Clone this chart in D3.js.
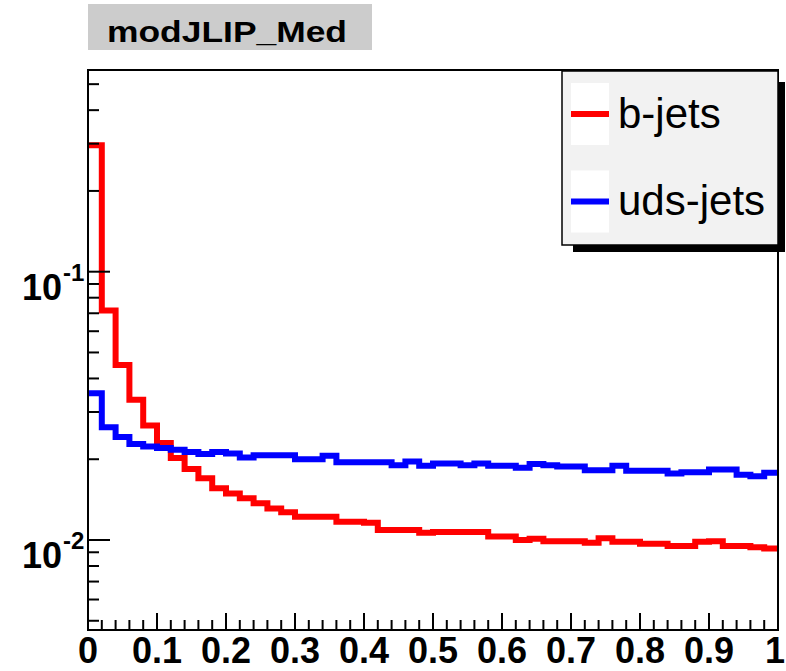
<!DOCTYPE html>
<html>
<head>
<meta charset="utf-8">
<script src="https://cdn.jsdelivr.net/npm/d3@7"></script>
<style>
  html, body { margin: 0; padding: 0; background: #ffffff; }
  svg { display: block; }
  text { font-family: "Liberation Sans", Arial, Helvetica, sans-serif; }
</style>
</head>
<body>
<script>
// ---------------- data ----------------
const title = "modJLIP_Med";
const nBins = 50;
const xMin = 0, xMax = 1;
const seriesNames = ["b-jets", "uds-jets"];
const seriesColors = ["#ff0000", "#0000ff"];

const bJets = [
  0.296, 0.0716, 0.0449, 0.0333, 0.0267, 0.0230, 0.0202, 0.0184, 0.0170, 0.0156,
  0.0149, 0.0143, 0.0137, 0.0131, 0.0127, 0.0122, 0.0122, 0.0122, 0.0117, 0.0117,
  0.0116, 0.0109, 0.0109, 0.0109, 0.01065, 0.0107, 0.0107, 0.0107, 0.0107, 0.0103,
  0.0103, 0.0100, 0.0101, 0.0099, 0.0099, 0.0099, 0.00977, 0.01015, 0.00986, 0.00986,
  0.00969, 0.00969, 0.0095, 0.0095, 0.00986, 0.0099, 0.0095, 0.0095, 0.0094, 0.0093
];
const udsJets = [
  0.0352, 0.0263, 0.0242, 0.0228, 0.0223, 0.0220, 0.0217, 0.0213, 0.0209, 0.0213,
  0.0210, 0.0203, 0.0207, 0.0207, 0.0207, 0.0200, 0.0200, 0.0206, 0.0195, 0.0195,
  0.0195, 0.0195, 0.0190, 0.0196, 0.0189, 0.0193, 0.0193, 0.0190, 0.0193, 0.0189,
  0.0189, 0.0186, 0.0192, 0.0190, 0.0188, 0.0188, 0.0182, 0.0182, 0.0189, 0.0181,
  0.0181, 0.0181, 0.0177, 0.0179, 0.0179, 0.0183, 0.0183, 0.0175, 0.0173, 0.0178
];

const xTickValues = [0, 0.1, 0.2, 0.3, 0.4, 0.5, 0.6, 0.7, 0.8, 0.9, 1];
const xTickLabels = ["0", "0.1", "0.2", "0.3", "0.4", "0.5", "0.6", "0.7", "0.8", "0.9", "1"];
const yMajorTicks = [0.01, 0.1];
const yMajorExp = ["-2", "-1"];
const yMinorTicks = [0.005, 0.006, 0.007, 0.008, 0.009,
                     0.02, 0.03, 0.04, 0.05, 0.06, 0.07, 0.08, 0.09,
                     0.2, 0.3, 0.4, 0.5];
const yDomain = [0.004619, 0.5646];

// ---------------- layout ----------------
const W = 786, H = 671;
const frame = { left: 88, right: 778, top: 70, bottom: 630 };

const svg = d3.select("body").append("svg").attr("width", W).attr("height", H);

const x = d3.scaleLinear().domain([xMin, xMax]).range([frame.left, frame.right]);
const y = d3.scaleLog().domain(yDomain).range([frame.bottom, frame.top]);

const binWidth = (xMax - xMin) / nBins;

// ---------------- title box ----------------
svg.append("rect").attr("x", 88).attr("y", 4).attr("width", 284).attr("height", 46)
  .attr("fill", "#cccccc");
svg.append("text").attr("x", 107).attr("y", 42)
  .attr("font-size", 29).attr("font-weight", "bold").attr("fill", "#000")
  .attr("textLength", 240).attr("lengthAdjust", "spacingAndGlyphs")
  .text(title);

// ---------------- histograms ----------------
function stepPath(vals) {
  const pts = [];
  vals.forEach((v, i) => {
    const lo = xMin + i * binWidth, hi = lo + binWidth;
    pts.push([x(lo), y(v)]);
    pts.push([x(hi), y(v)]);
  });
  return d3.line()(pts);
}
svg.append("clipPath").attr("id", "frameclip")
  .append("rect").attr("x", frame.left).attr("y", frame.top)
  .attr("width", frame.right - frame.left).attr("height", frame.bottom - frame.top);

[bJets, udsJets].forEach((vals, k) => {
  svg.append("path")
    .attr("d", stepPath(vals))
    .attr("fill", "none")
    .attr("stroke", seriesColors[k])
    .attr("stroke-width", 6)
    .attr("stroke-linejoin", "miter")
    .attr("clip-path", "url(#frameclip)");
});

// ---------------- frame ----------------
svg.append("rect").attr("x", frame.left).attr("y", frame.top)
  .attr("width", frame.right - frame.left).attr("height", frame.bottom - frame.top)
  .attr("fill", "none").attr("stroke", "#000").attr("stroke-width", 2);

// ---------------- x axis ticks ----------------
const xMinor = d3.range(0, 51).map(i => i * 0.02);
svg.append("g").selectAll("line").data(xMinor).enter().append("line")
  .attr("x1", d => x(d)).attr("x2", d => x(d))
  .attr("y1", frame.bottom).attr("y2", frame.bottom - 10)
  .attr("stroke", "#000").attr("stroke-width", 2);
svg.append("g").selectAll("line").data(xTickValues).enter().append("line")
  .attr("x1", d => x(d)).attr("x2", d => x(d))
  .attr("y1", frame.bottom).attr("y2", frame.bottom - 17)
  .attr("stroke", "#000").attr("stroke-width", 2);
svg.append("g").selectAll("text").data(xTickValues).enter().append("text")
  .attr("x", (d, i) => i === xTickValues.length - 1 ? 785 : x(d))
  .attr("y", 663)
  .attr("text-anchor", (d, i) => i === xTickValues.length - 1 ? "end" : "middle")
  .attr("font-size", 36).attr("font-weight", "bold")
  .text((d, i) => xTickLabels[i]);

// ---------------- y axis ticks ----------------
svg.append("g").selectAll("line").data(yMinorTicks).enter().append("line")
  .attr("x1", frame.left).attr("x2", frame.left + 11)
  .attr("y1", d => y(d)).attr("y2", d => y(d))
  .attr("stroke", "#000").attr("stroke-width", 2);
svg.append("g").selectAll("line").data(yMajorTicks).enter().append("line")
  .attr("x1", frame.left).attr("x2", frame.left + 22)
  .attr("y1", d => y(d)).attr("y2", d => y(d))
  .attr("stroke", "#000").attr("stroke-width", 2);
yMajorTicks.forEach((v, i) => {
  const yy = y(v);
  svg.append("text").attr("x", 62).attr("y", yy + 28)
    .attr("text-anchor", "end").attr("font-size", 36).attr("font-weight", "bold")
    .text("10");
  svg.append("text").attr("x", 63).attr("y", yy + 9)
    .attr("text-anchor", "start").attr("font-size", 24).attr("font-weight", "bold")
    .text(yMajorExp[i]);
});

// ---------------- legend ----------------
const lg = { x: 562, y: 71, w: 216, h: 174 };
svg.append("rect").attr("x", 573).attr("y", 82)
  .attr("width", 785 - 573).attr("height", 252 - 82)
  .attr("fill", "#000");
svg.append("rect").attr("x", lg.x).attr("y", lg.y).attr("width", lg.w).attr("height", lg.h)
  .attr("fill", "#f2f2f2").attr("stroke", "#000").attr("stroke-width", 1.5);
const entryY = [114, 201.5];
const textY = [128, 215];
seriesNames.forEach((name, i) => {
  svg.append("rect").attr("x", 571).attr("y", entryY[i] - 31).attr("width", 38).attr("height", 62)
    .attr("fill", "#ffffff");
  svg.append("line").attr("x1", 571).attr("x2", 609)
    .attr("y1", entryY[i]).attr("y2", entryY[i])
    .attr("stroke", seriesColors[i]).attr("stroke-width", 6);
  svg.append("text").attr("x", 618).attr("y", textY[i])
    .attr("font-size", 42).attr("fill", "#000")
    .text(name);
});
</script>
</body>
</html>
